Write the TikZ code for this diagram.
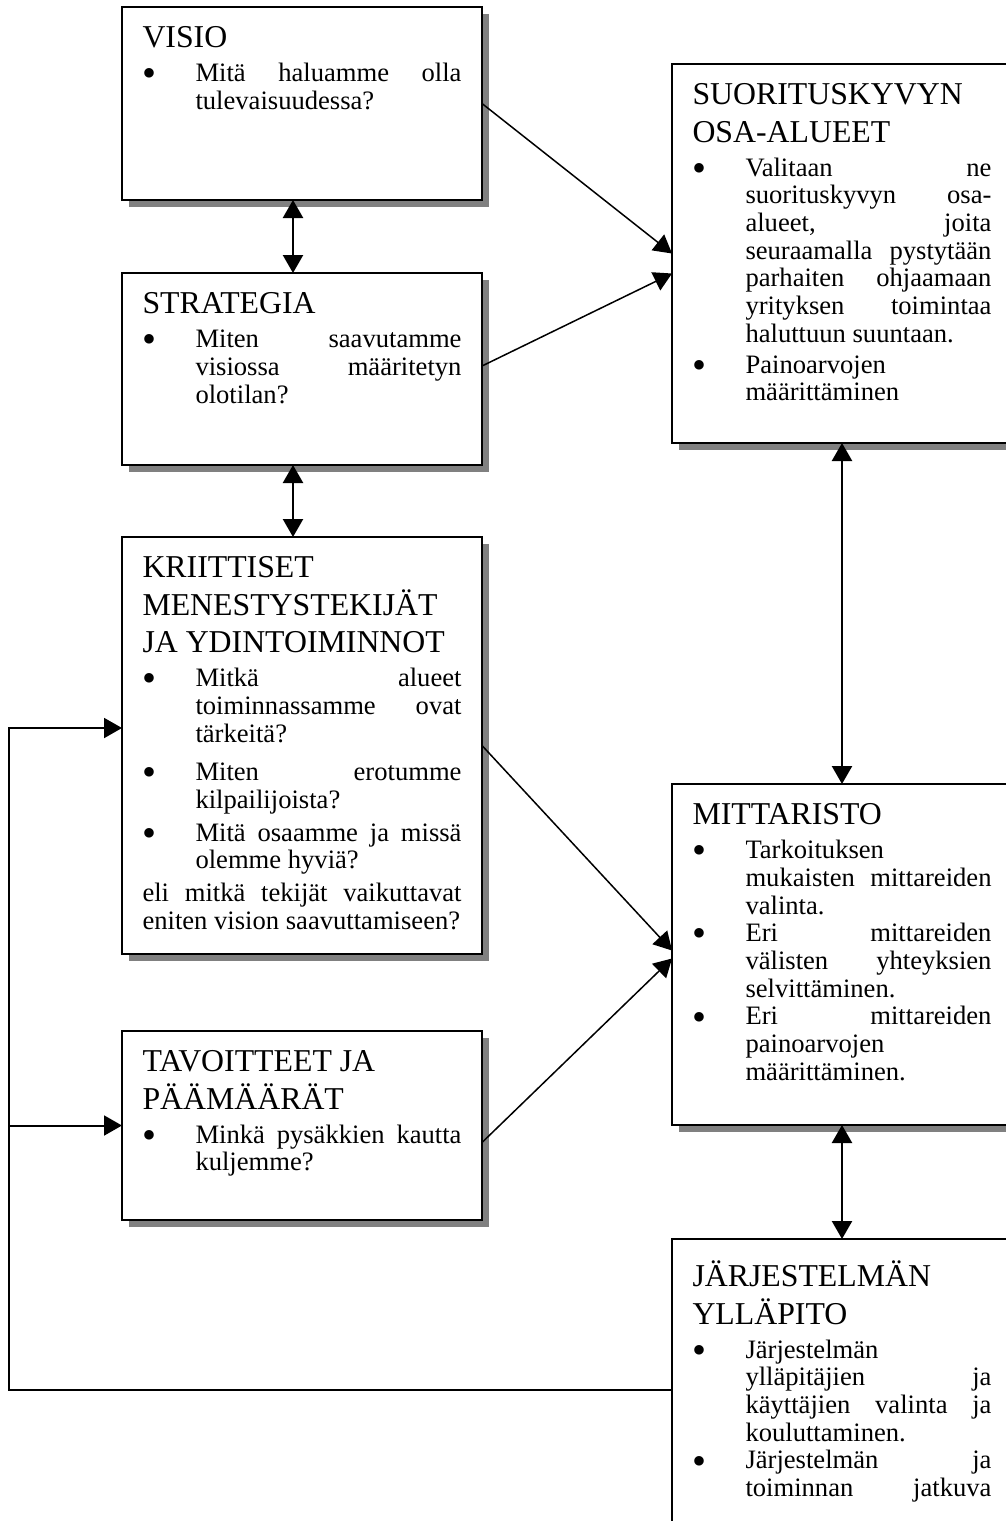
\documentclass[tikz,border=0pt]{standalone}
\usepackage{fontspec}
\setmainfont{Liberation Serif}
\usepackage{graphicx}
\usetikzlibrary{arrows.meta,calc,shadows}
\tikzset{every picture/.style={line width=0.75pt}}

\newcommand{\leipa}{\fontsize{13.3}{13.85}\selectfont\tolerance=10000\hbadness=10000\hyphenpenalty=10000}
\newcommand{\otsikko}[1]{{\fontsize{15.9}{18.75}\selectfont #1\par}\vspace{3.2pt}}
\newcommand{\pallo}{\raisebox{-2.6pt}{\scalebox{1.5}{\textbullet}}}
\newcommand{\kohta}[1]{\par\hangindent=26.5pt\hangafter=1\noindent\makebox[26.5pt][l]{\pallo}#1\par}

\tikzset{
  laatikko/.style={draw, line width=1pt, fill=white, anchor=north west, outer sep=0pt,
    inner xsep=10.25pt, inner ysep=0pt, text height=20.25pt, align=justify, font=\leipa,
    drop shadow={shadow xshift=3.5pt, shadow yshift=-3.5pt, opacity=1, fill=black!50}},
  vasen/.style={laatikko, text width=159.5pt},
  oikea/.style={laatikko, text width=149.5pt},
  pijl/.style={-{Triangle[length=9pt,width=10pt]}},
  tuplapijl/.style={line width=1.2pt, {Triangle[length=9pt,width=10pt]}-{Triangle[length=9pt,width=10pt]}},
}

\begin{document}
\begin{tikzpicture}[x=0.5pt,y=0.5pt,yscale=-1,xscale=1]
\useasboundingbox (0,0) rectangle (1006,1521);
\clip (0,0) rectangle (1006,1521);

% Boxes, left column
\node[vasen, text depth=76.25pt] (visio) at (122,7) {%
\otsikko{VISIO}%
\kohta{Mitä haluamme olla\linebreak tulevaisuudessa?}};
\node[vasen, text depth=75.75pt] (strategia) at (122,273) {%
\otsikko{STRATEGIA}%
\kohta{Miten saavutamme\linebreak visiossa määritetyn\linebreak olotilan?}};
\node[vasen, text depth=188.25pt] (kriittiset) at (122,537) {%
\otsikko{KRIITTISET\par MENESTYSTEKIJÄT\par JA YDINTOIMINNOT}%
\kohta{Mitkä alueet\linebreak toiminnassamme ovat\linebreak tärkeitä?}\vspace{5.5pt}%
\kohta{Miten erotumme\linebreak kilpailijoista?}\vspace{2.5pt}%
\kohta{Mitä osaamme ja missä\linebreak olemme hyviä?}\vspace{2.7pt}%
\noindent eli mitkä tekijät vaikuttavat\linebreak eniten vision saavuttamiseen?\par};
\node[vasen, text depth=74.25pt] (tavoitteet) at (122,1031) {%
\otsikko{TAVOITTEET JA\par PÄÄMÄÄRÄT}%
\kohta{Minkä pysäkkien kautta\linebreak kuljemme?}};

% Boxes, right column
\node[oikea, text depth=169.25pt] (suoritus) at (672,64) {%
\otsikko{SUORITUSKYVYN\par OSA-ALUEET}%
\kohta{Valitaan ne\linebreak suorituskyvyn osa-\linebreak alueet, joita\linebreak seuraamalla pystytään\linebreak parhaiten ohjaamaan\linebreak yrityksen toimintaa\linebreak haluttuun suuntaan.}\vspace{1.5pt}%
\kohta{Painoarvojen\linebreak määrittäminen}};
\node[oikea, text depth=150.25pt] (mittaristo) at (672,784) {%
\otsikko{MITTARISTO}%
\kohta{Tarkoituksen\linebreak mukaisten mittareiden\linebreak valinta.}%
\kohta{Eri mittareiden\linebreak välisten yhteyksien\linebreak selvittäminen.}%
\kohta{Eri mittareiden\linebreak painoarvojen\linebreak määrittäminen.}};
\node[oikea, text height=23.75pt, text depth=156.75pt] (jarjestelma) at (672,1239) {%
\otsikko{JÄRJESTELMÄN\par YLLÄPITO}%
\kohta{Järjestelmän\linebreak ylläpitäjien ja\linebreak käyttäjien valinta ja\linebreak kouluttaminen.}%
{\parfillskip=0pt\kohta{Järjestelmän ja\linebreak toiminnan jatkuva}}};

% Straight Lines
\draw[tuplapijl] ($(visio.south)+(-9,0)$) -- ($(strategia.north)+(-9,0)$);
\draw[tuplapijl] ($(strategia.south)+(-9,0)$) -- ($(kriittiset.north)+(-9,0)$);
\draw[pijl] (visio.east) -- (suoritus.west);
\draw[pijl] ($(strategia.east)+(0,-3)$) -- ($(suoritus.west)+(0,20)$);
\draw[pijl] (kriittiset.east) -- ($(mittaristo.west)+(0,-4)$);
\draw[pijl] ($(tavoitteet.east)+(0,17)$) -- ($(mittaristo.west)+(0,4)$);
\draw[tuplapijl] (suoritus.south) -- (mittaristo.north);
\draw[tuplapijl] (mittaristo.south) -- (jarjestelma.north);

% Feedback line
\coordinate (reuna) at (9,0);
\coordinate (lahto) at ($(jarjestelma.north west)+(0,151)$);
\coordinate (tulo) at ($(kriittiset.north west)+(0,191)$);
\draw[pijl, line width=1pt] (lahto) -- (lahto -| reuna) |- (tulo);
\draw[pijl, line width=1pt] (tavoitteet.west -| reuna) -- (tavoitteet.west);

\end{tikzpicture}
\end{document}
